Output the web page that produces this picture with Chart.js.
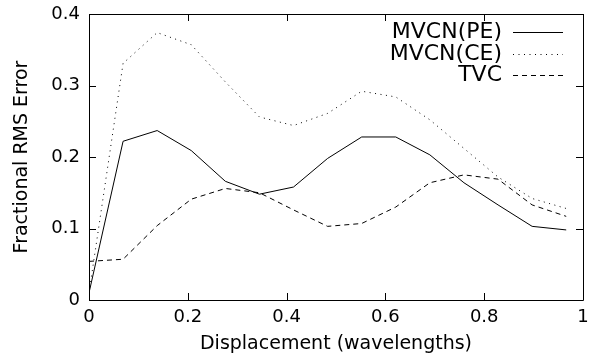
<!DOCTYPE html>
<html>
<head>
<meta charset="utf-8">
<script src="https://cdn.jsdelivr.net/npm/chart.js@4/dist/chart.umd.min.js"></script>
<style>
    html, body { margin: 0; padding: 0; background: #fff; }
    #wrap { width: 589px; height: 360px; }
</style>
</head>
<body>
<div id="wrap"><canvas id="myChart"></canvas></div>
<script>
// displacement samples (wavelengths)
const displacement = [0, 0.069, 0.138, 0.207, 0.276, 0.345, 0.414, 0.483, 0.552, 0.621, 0.690, 0.759, 0.828, 0.897, 0.966];

// fractional RMS error for each method
const mvcnPE = [0.010, 0.222, 0.237, 0.209, 0.166, 0.148, 0.158, 0.198, 0.228, 0.228, 0.203, 0.164, 0.133, 0.103, 0.098];
const mvcnCE = [0.010, 0.331, 0.374, 0.357, 0.305, 0.256, 0.244, 0.261, 0.292, 0.284, 0.252, 0.212, 0.172, 0.142, 0.128];
const tvc    = [0.054, 0.057, 0.104, 0.141, 0.156, 0.150, 0.126, 0.103, 0.107, 0.130, 0.164, 0.175, 0.169, 0.133, 0.117];

const seriesNames = ['MVCN(PE)', 'MVCN(CE)', 'TVC'];

// tick labels
const xTicks = ['0', '0.2', '0.4', '0.6', '0.8', '1'];
const yTicks = ['0', '0.1', '0.2', '0.3', '0.4'];
const xTickValues = [0, 0.2, 0.4, 0.6, 0.8, 1];
const yTickValues = [0, 0.1, 0.2, 0.3, 0.4];

const FONT = 'DejaVu Sans';

const toPoints = (ys) => ys.map((y, i) => ({ x: displacement[i], y: y }));

// gnuplot style box with inward ticks on all four sides
const framePlugin = {
    id: 'frame',
    afterDatasetsDraw(chart) {
        const { ctx, chartArea: a, scales } = chart;
        const len = 7;
        ctx.save();
        ctx.strokeStyle = '#000';
        ctx.lineWidth = 1;
        ctx.beginPath();
        ctx.rect(Math.round(a.left) + 0.5, Math.round(a.top) + 0.5,
                 Math.round(a.right - a.left), Math.round(a.bottom - a.top));
        xTickValues.forEach(v => {
            const px = Math.round(scales.x.getPixelForValue(v)) + 0.5;
            ctx.moveTo(px, a.bottom); ctx.lineTo(px, a.bottom - len);
            ctx.moveTo(px, a.top); ctx.lineTo(px, a.top + len);
        });
        yTickValues.forEach(v => {
            const py = Math.round(scales.y.getPixelForValue(v)) + 0.5;
            ctx.moveTo(a.left, py); ctx.lineTo(a.left + len, py);
            ctx.moveTo(a.right, py); ctx.lineTo(a.right - len, py);
        });
        ctx.stroke();
        ctx.restore();
    }
};

// legend in the top right corner: text right aligned, line sample after it
const legendPlugin = {
    id: 'keyBox',
    afterDraw(chart) {
        const { ctx } = chart;
        const textRight = 502;
        const lineStart = 513;
        const lineEnd = 563;
        const rowTop = 32;
        const rowStep = 21.5;
        ctx.save();
        ctx.font = '22px "' + FONT + '"';
        ctx.textAlign = 'right';
        ctx.textBaseline = 'middle';
        chart.data.datasets.forEach((ds, i) => {
            const y = Math.round(rowTop + i * rowStep) + 0.5;
            ctx.fillStyle = '#000';
            ctx.fillText(ds.label, textRight, y);
            ctx.strokeStyle = ds.borderColor;
            ctx.lineWidth = ds.borderWidth;
            ctx.setLineDash(ds.borderDash || []);
            ctx.beginPath();
            ctx.moveTo(lineStart, y);
            ctx.lineTo(lineEnd, y);
            ctx.stroke();
        });
        ctx.restore();
    }
};

const ctx = document.getElementById('myChart').getContext('2d');

new Chart(ctx, {
    type: 'line',
    data: {
        datasets: [
            { label: seriesNames[0], data: toPoints(mvcnPE), borderColor: '#000', borderWidth: 1, borderDash: [] },
            { label: seriesNames[1], data: toPoints(mvcnCE), borderColor: '#000', borderWidth: 1, borderDash: [1, 4.5] },
            { label: seriesNames[2], data: toPoints(tvc), borderColor: '#000', borderWidth: 1, borderDash: [5, 4] }
        ]
    },
    options: {
        responsive: true,
        maintainAspectRatio: false,
        animation: false,
        layout: { padding: { top: 14, right: 6, left: 0, bottom: 0 } },
        elements: {
            point: { radius: 0 },
            line: { tension: 0, fill: false }
        },
        scales: {
            x: {
                type: 'linear',
                min: 0,
                max: 1,
                afterFit: (s) => { s.height = 60; s.paddingLeft = 0; s.paddingRight = 0; },
                afterBuildTicks: (s) => { s.ticks = xTickValues.map(v => ({ value: v })); },
                grid: { display: false, drawTicks: false },
                border: { display: false },
                ticks: {
                    color: '#000',
                    font: { family: FONT, size: 18 },
                    padding: 7,
                    maxRotation: 0,
                    callback: (v) => xTicks[xTickValues.indexOf(v)]
                },
                title: {
                    display: true,
                    text: 'Displacement (wavelengths)',
                    color: '#000',
                    font: { family: FONT, size: 19 },
                    padding: { top: 0, bottom: 5 }
                }
            },
            y: {
                type: 'linear',
                min: 0,
                max: 0.4,
                afterFit: (s) => { s.width = 89; s.paddingTop = 0; s.paddingBottom = 0; },
                afterBuildTicks: (s) => { s.ticks = yTickValues.map(v => ({ value: v })); },
                grid: { display: false, drawTicks: false },
                border: { display: false },
                ticks: {
                    color: '#000',
                    font: { family: FONT, size: 18 },
                    padding: 9,
                    callback: (v) => yTicks[yTickValues.indexOf(v)]
                },
                title: {
                    display: true,
                    text: 'Fractional RMS Error',
                    color: '#000',
                    font: { family: FONT, size: 19 },
                    padding: { top: 11, bottom: 0 }
                }
            }
        },
        plugins: {
            legend: { display: false },
            tooltip: { enabled: false }
        }
    },
    plugins: [framePlugin, legendPlugin]
});
</script>
</body>
</html>
